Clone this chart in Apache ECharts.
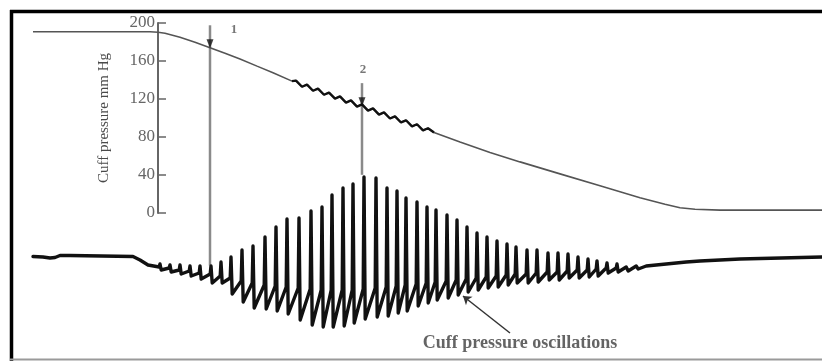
<!DOCTYPE html>
<html><head><meta charset="utf-8">
<script src="https://cdn.jsdelivr.net/npm/echarts@6/dist/echarts.min.js"></script>
<style>html,body{margin:0;padding:0;background:#fff}#c{width:822px;height:361px}</style>
</head><body><div id="c"></div>
<script>
// ---- Cuff pressure trace (time in arbitrary units, 0 at the pressure axis; pressure in mmHg)
const pressureTime = [-125,-8,0,7,22,37,52,67,82,99,115,134,138,144,149,155,160,166,171,177,182,188,193,199,204,210,215,221,226,232,237,243,248,254,259,265,270,276,302,332,362,402,442,482,507,522,537,562,664];
const pressureValue = [190.8,190.8,190.3,189.2,185.0,179.8,174.0,168.2,162.0,154.6,147.7,138.8,139.4,132.9,135.2,128.7,131.0,124.5,126.8,120.4,122.7,116.2,118.5,112.0,114.3,107.8,110.1,103.6,105.9,99.5,101.8,95.3,97.6,91.1,93.4,86.9,89.2,84.8,74.8,63.8,53.8,41.2,28.6,16.1,9.2,5.6,4.0,3.0,3.0];
const pulsatileFrom = 11, pulsatileTo = 38; // index range of the stretch showing pulsations

// ---- Pressure axis ticks
const pressureTicks = [0,40,80,120,160,200];

// ---- Cuff pressure oscillations (relative level, arbitrary units)
const leadTime  = [-125,-115,-108,-103,-98,-88,-25,-18,-10];
const leadLevel = [13.5,13,12,12.5,14.5,14.5,13.5,10,5];
const beatTime    = [2,12,22,32,42,53,63,73,84,95,107,118,129,141,153,164,174,185,195,206,218,229,239,248,259,269,278,289,299,309,319,329,339,349,358,369,379,390,400,410,420,430,439,449,459,469,479,489,499,509,519,529];
const peakLevel   = [6,5,5,4,4,4,8,13,20,24,33,43,51,52,59,63,75,82,86,93,92,82,79,72,68,63,60,55,50,43,37,33,29,26,23,20,20,17,17,16,13,11,9,7,6,5,6,6,7,8,9,9];
const troughLevel = [0,-2,-4,-6,-9,-13,-13,-24,-32,-38,-39,-41,-44,-50,-55,-57,-57,-56,-53,-49,-47,-46,-43,-41,-36,-33,-30,-28,-25,-22,-20,-18,-17,-15,-13,-13,-12,-10,-10,-8,-8,-7,-6,-3,-2,-1,1,2,3,4,6,7];
const baseLevel   = [3,2,0,-1,-3,-4,-6,-8,-11,-13,-15,-16,-17,-18,-19,-20,-20,-20,-20,-19,-18,-17,-16,-15,-14,-13,-12,-11,-10,-9,-8,-7,-6,-5,-4,-4,-3,-2,-2,-1,0,0,1,2,2,3,4,4,5,6,7,8];
const tailTime  = [542,582,664];
const tailLevel = [9,11,13];

// ---- Markers 1 and 2
const markerNames  = ['1','2'];
const markerTime   = [52,204];
const markerTop    = [197.6,136.7];
const markerBottom = [-55.3,40.2];
const markerCurve  = [174.0,113.0];
const markerLabelTime  = [76,205];
const markerLabelValue = [193.3,150.4];

// ---- Annotation
const annotationText = 'Cuff pressure oscillations';
const annotationPos = [362,-73];
const annotationArrow = [[352,-63],[305,-26]];

const SERIF = '"Liberation Serif","DejaVu Serif",serif';

const pressureData = pressureTime.map((t,i)=>[t, pressureValue[i]]);
const osc = [];
leadTime.forEach((t,i)=>osc.push([t, leadLevel[i]]));
beatTime.forEach((t,i)=>{
  osc.push([t-0.8, baseLevel[i]]);
  osc.push([t, peakLevel[i]]);
  osc.push([t+1.2, troughLevel[i]]);
});
tailTime.forEach((t,i)=>osc.push([t, tailLevel[i]]));

const markerSeries = markerTime.map((t,i)=>({
  type:'line', xAxisIndex:0, yAxisIndex:0, clip:false, silent:true,
  symbol:'none', data:[[t, markerTop[i]],[t, markerBottom[i]]],
  lineStyle:{color:'#8a8a8a', width:2.5}, z:1
}));

const pMin = pressureTicks[0], pMax = pressureTicks[pressureTicks.length-1];

const chart = echarts.init(document.getElementById('c'), null, {renderer:'canvas'});
chart.setOption({
  animation:false,
  backgroundColor:'#fff',
  textStyle:{fontFamily:SERIF},
  grid:[
    {left:33, right:0, top:23, height:190, outerBoundsMode:'none'},
    {left:33, right:0, top:140, height:210, outerBoundsMode:'none'},
    {left:158, width:100, top:23, height:190, outerBoundsMode:'none'}
  ],
  xAxis:[
    {gridIndex:0, type:'value', min:-125, max:664, show:false},
    {gridIndex:1, type:'value', min:-125, max:664, show:false},
    {gridIndex:2, type:'value', min:0, max:100, show:false}
  ],
  yAxis:[
    {gridIndex:0, type:'value', min:pMin, max:pMax, show:false},
    {gridIndex:1, type:'value', min:-80, max:130, show:false},
    {gridIndex:2, type:'value', position:'left', min:pMin, max:pMax, interval:pressureTicks[1]-pressureTicks[0],
     name:'Cuff pressure mm Hg', nameLocation:'middle', nameGap:46, nameRotate:90,
     nameTextStyle:{fontFamily:SERIF, fontSize:15, color:'#4a4a4a'},
     axisLine:{show:true, onZero:false, lineStyle:{color:'#666', width:2}},
     axisTick:{show:true, inside:true, length:8, lineStyle:{color:'#666', width:1.5}},
     axisLabel:{fontFamily:SERIF, fontSize:17, color:'#666', margin:3, showMinLabel:true, showMaxLabel:true},
     splitLine:{show:false}}
  ],
  graphic:[
    {type:'line', silent:true, shape:{x1:10, y1:11.5, x2:822, y2:11.5}, style:{stroke:'#000', lineWidth:3.5}},
    {type:'line', silent:true, shape:{x1:11.5, y1:10, x2:11.5, y2:361}, style:{stroke:'#000', lineWidth:3.5}},
    {type:'line', silent:true, shape:{x1:10, y1:359.5, x2:822, y2:359.5}, style:{stroke:'#9a9a9a', lineWidth:2}}
  ],
  series:[
    ...markerSeries,
    {type:'line', xAxisIndex:0, yAxisIndex:0, silent:true, symbol:'none', data:pressureData,
     lineStyle:{color:'#555', width:1.6}, z:2},
    {type:'line', xAxisIndex:0, yAxisIndex:0, silent:true, symbol:'none', data:pressureData.slice(pulsatileFrom, pulsatileTo),
     lineStyle:{color:'#111', width:2.4}, z:3},
    {type:'line', xAxisIndex:1, yAxisIndex:1, silent:true, symbol:'none', data:osc,
     lineStyle:{color:'#111', width:3.4, join:'round', cap:'round'}, z:3},
    {type:'scatter', xAxisIndex:0, yAxisIndex:0, silent:true, symbol:'triangle', symbolRotate:180,
     symbolSize:[7,9], symbolOffset:[0,-4], itemStyle:{color:'#111'},
     data:markerTime.map((t,i)=>[t, markerCurve[i]]), z:4},
    {type:'scatter', xAxisIndex:0, yAxisIndex:0, silent:true, symbolSize:1, itemStyle:{color:'rgba(0,0,0,0)'},
     label:{show:true, position:'inside', formatter:'{b}', fontFamily:SERIF, fontSize:13, fontWeight:'bold', color:'#555'},
     data:markerNames.map((n,i)=>({name:n, value:[markerLabelTime[i], markerLabelValue[i]]})), z:4},
    {type:'scatter', xAxisIndex:1, yAxisIndex:1, silent:true, clip:false, symbolSize:1, itemStyle:{color:'rgba(0,0,0,0)'},
     label:{show:true, position:'inside', formatter:'{b}', fontFamily:SERIF, fontSize:18, fontWeight:'bold', color:'#3d3d3d'},
     data:[{name:annotationText, value:annotationPos}],
     markLine:{silent:true, symbol:['none','arrow'], symbolSize:8, animation:false,
       lineStyle:{color:'#333', width:1.5, type:'solid'}, label:{show:false},
       data:[[{coord:annotationArrow[0]},{coord:annotationArrow[1]}]]}, z:4}
  ]
});
</script>
</body></html>
